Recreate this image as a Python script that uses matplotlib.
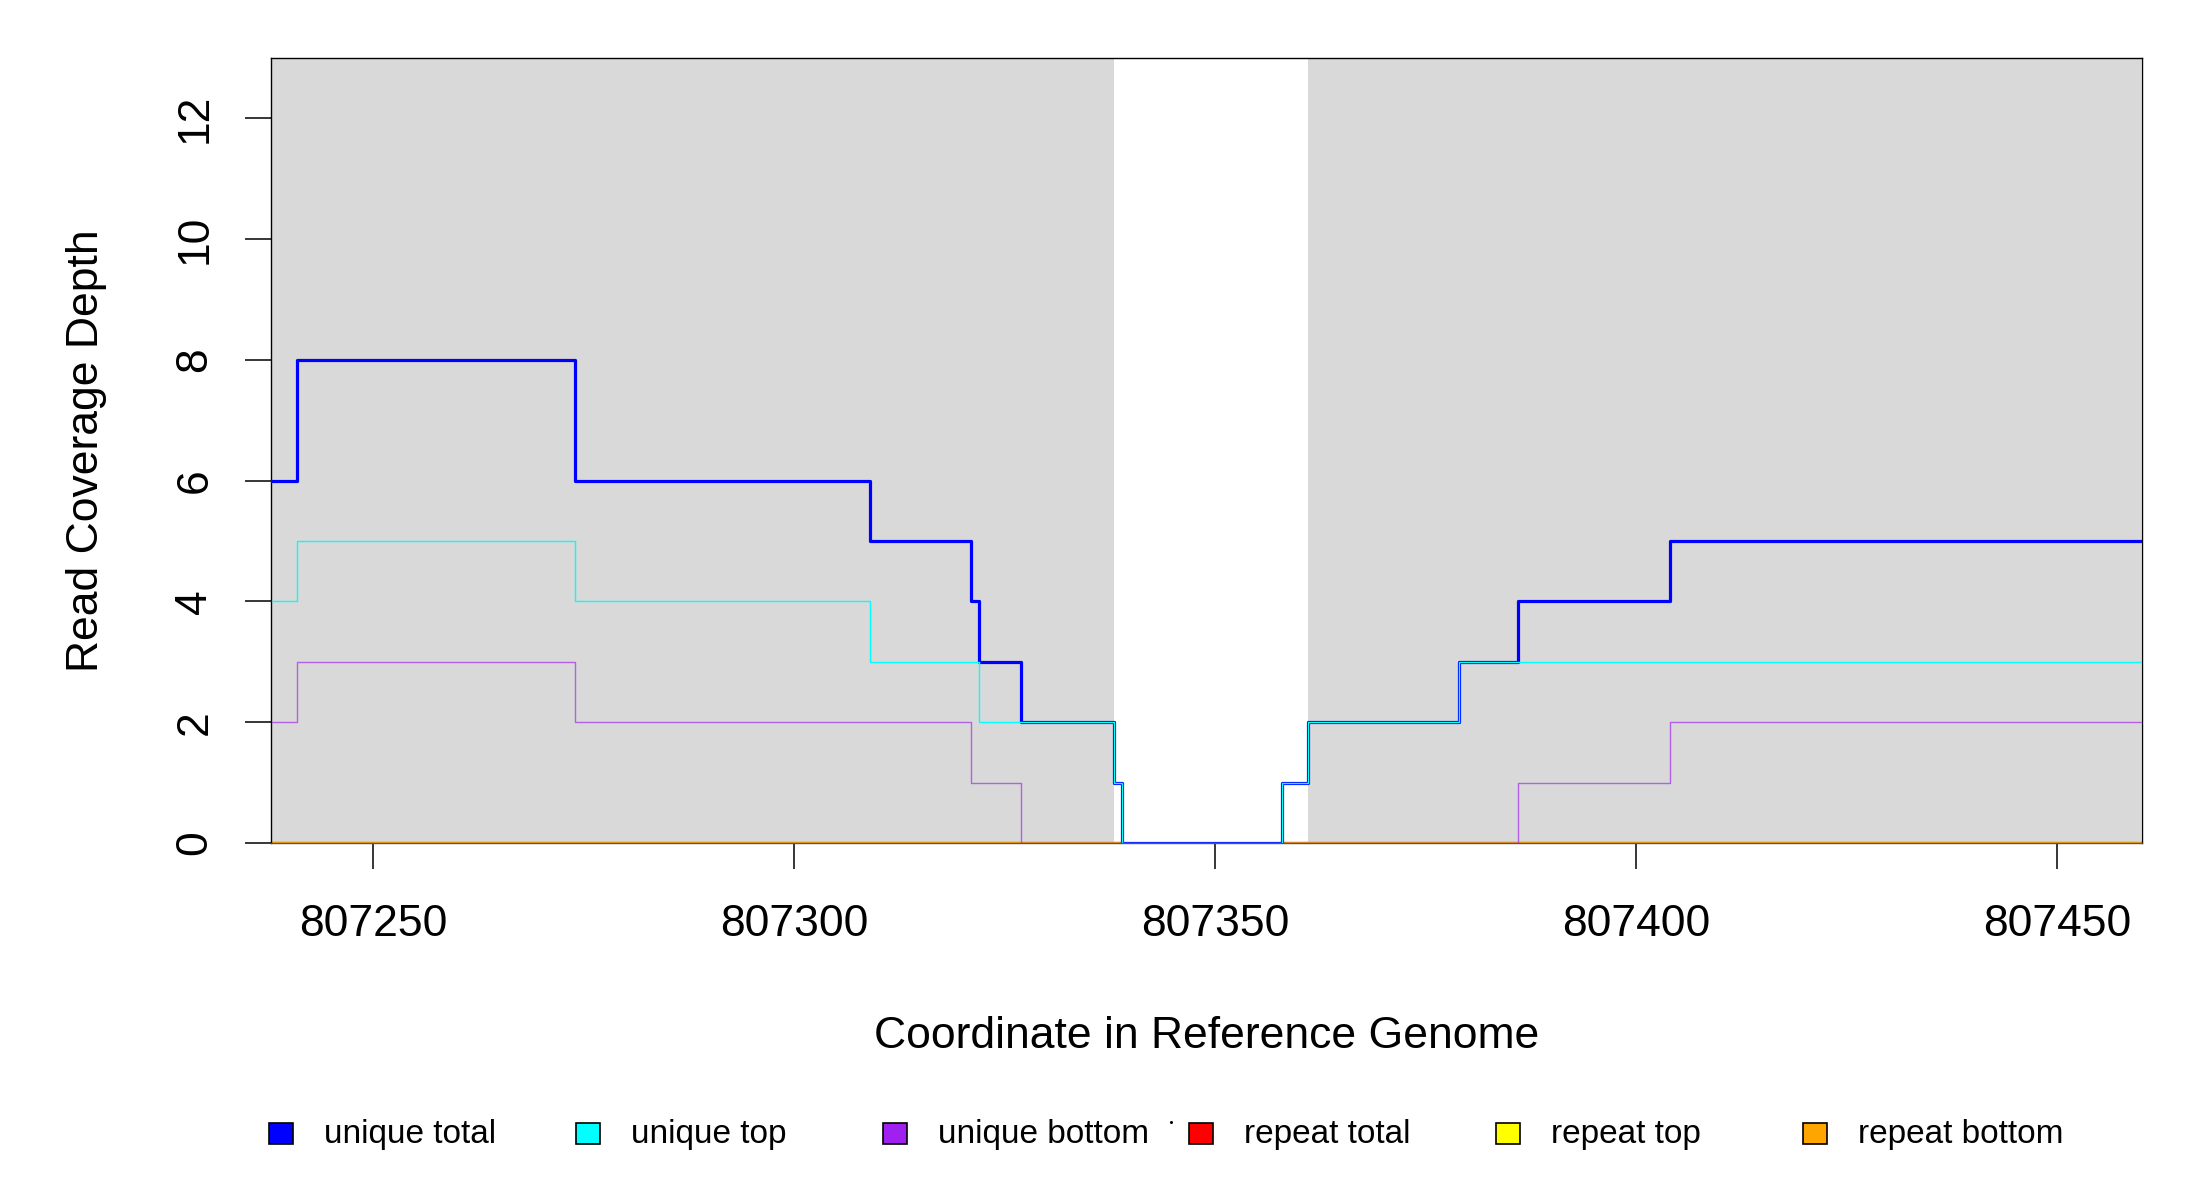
import numpy as np
import matplotlib
matplotlib.use("Agg")
import matplotlib.pyplot as plt
from matplotlib.patches import Rectangle
from matplotlib.lines import Line2D

plt.rcParams["font.family"] = ["Liberation Sans", "DejaVu Sans"]

# step boundaries (genome coordinate) and coverage per segment
edges = [807238, 807241, 807274, 807309, 807321, 807322, 807327, 807338,
         807339, 807358, 807361, 807379, 807386, 807404, 807460]
unique_total = [6, 8, 6, 5, 4, 3, 2, 1, 0, 1, 2, 3, 4, 5]
unique_top = [4, 5, 4, 3, 3, 2, 2, 1, 0, 1, 2, 3, 3, 3]
unique_bottom = [2, 3, 2, 2, 1, 1, 0, 0, 0, 0, 0, 0, 1, 2]
# repeat coverage is zero, with no record where there is no coverage at all
repeat_total = [0, 0, 0, 0, 0, 0, 0, 0, np.nan, 0, 0, 0, 0, 0]
repeat_top = [0, 0, 0, 0, 0, 0, 0, 0, np.nan, 0, 0, 0, 0, 0]
repeat_bottom = [0, 0, 0, 0, 0, 0, 0, 0, np.nan, 0, 0, 0, 0, 0]

# shaded (covered) regions
shaded = [(807238, 807338), (807361, 807460)]

labels = ["unique total", "unique top", "unique bottom",
          "repeat total", "repeat top", "repeat bottom"]
colors = ["#0000FF", "#00FFFF", "#A020F0", "#FF0000", "#FFFF00", "#FFA500"]

fig = plt.figure(figsize=(22, 12), dpi=100)
ax = fig.add_axes([271 / 2200, 1 - 843 / 1200, 1871 / 2200, 785 / 1200])

for a, b in shaded:
    ax.axvspan(a, b, color="#D9D9D9", lw=0, zorder=0)

def stepline(vals, **kw):
    y = list(vals) + [vals[-1]]
    ax.step(edges, y, where="post", **kw)

# repeat lines underneath
stepline(repeat_total, color=colors[3], lw=1.6, zorder=2)
stepline(repeat_top, color=colors[4], lw=1.6, zorder=2)
stepline(repeat_bottom, color=colors[5], lw=1.6, zorder=2)
# unique lines
stepline(unique_total, color=colors[0], lw=2.3, zorder=3)
stepline(unique_top, color=colors[1], lw=1.0, zorder=4)
stepline(unique_bottom, color=colors[2], lw=1.0, alpha=0.65, zorder=5)

ax.set_xlim(807237.9, 807460.1)
ax.set_ylim(0, 13)
ax.set_xticks([807250, 807300, 807350, 807400, 807450])
ax.set_yticks([0, 2, 4, 6, 8, 10, 12])
ax.tick_params(axis="both", length=19, width=1.1, labelsize=32, color="black")
ax.tick_params(axis="x", pad=25)
ax.tick_params(axis="y", pad=21)
for t in ax.get_yticklabels():
    t.set_rotation(90)
    t.set_va("center")

for s in ax.spines.values():
    s.set_linewidth(1.0)
    s.set_color("black")
ax.spines["bottom"].set_color("#555555")

ax.set_xlabel("Coordinate in Reference Genome", fontsize=32)
ax.xaxis.set_label_coords(0.5, (843 - 1036) / 785)
ax.xaxis.label.set_va("center")
ax.set_ylabel("Read Coverage Depth", fontsize=32)
ax.yaxis.set_label_coords((87 - 271) / 1871, 0.5)
ax.yaxis.label.set_va("center")

# legend row along the bottom
ly = 1 - 1134 / 1200
for i, (lab, col) in enumerate(zip(labels, colors)):
    x0 = 269 + i * 306.8
    fig.patches.append(Rectangle((x0 / 2200, ly - 10 / 1200), 24 / 2200, 21 / 1200,
                                 transform=fig.transFigure, facecolor=col,
                                 edgecolor="black", lw=1.2))
    fig.text((x0 + 55) / 2200, ly, lab, fontsize=24, ha="left", va="center")
fig.add_artist(Line2D([1171 / 2200], [1 - 1122 / 1200], marker="o", ms=1.2,
                      color="black", transform=fig.transFigure))

fig.savefig("out.png", dpi=100, facecolor="white")
